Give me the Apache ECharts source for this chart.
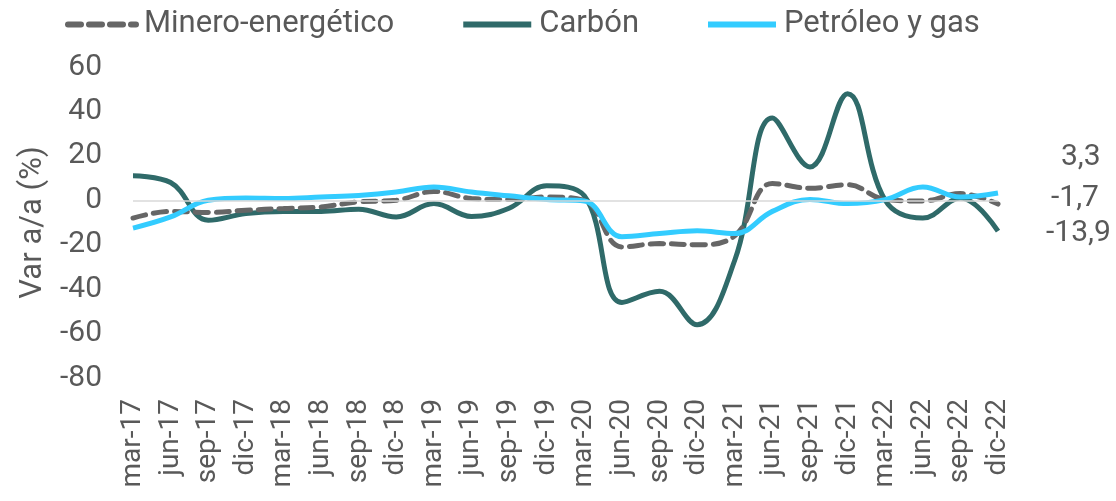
<!DOCTYPE html>
<html>
<head>
<meta charset="utf-8">
<title>Var a/a</title>
<script src="https://cdn.jsdelivr.net/npm/echarts@6/dist/echarts.min.js"></script>
<style>
  html, body { margin: 0; padding: 0; background: #fff; }
  #chart { width: 1116px; height: 501px; }
</style>
</head>
<body>
<div id="chart"></div>
<script>
// trimestres
const categories = ['mar-17', 'jun-17', 'sep-17', 'dic-17', 'mar-18', 'jun-18', 'sep-18', 'dic-18',
  'mar-19', 'jun-19', 'sep-19', 'dic-19', 'mar-20', 'jun-20', 'sep-20', 'dic-20',
  'mar-21', 'jun-21', 'sep-21', 'dic-21', 'mar-22', 'jun-22', 'sep-22', 'dic-22']

const mineroEnergetico = [-8, -5, -5.5, -4.5, -3.7, -3, -0.7, 0, 4, 0.8, 0.3, 1.5,
  0, -21, -19.5, -20, -16, 7.6, 5.4, 7, 0.4, -0.3, 3, -1.7]
const carbon = [11, 8, -9, -6, -5, -5, -4, -7.5, -1.5, -7.3, -3.6, 6.5,
  2, -46, -41, -56, -27, 37, 15, 48, 0, -8, 1, -13.9]
const petroleoGas = [-12.5, -7.5, 0, 1, 0.8, 1.5, 2.2, 3.7, 6, 3.7, 2, 0.4,
  -0.3, -16.4, -15, -13.7, -15, -5, 0.4, -1.5, 0.3, 6, 1.5, 3.3]

const yTicks = { min: -80, max: 60, interval: 20 }

const textColor = '#595959'
const font = 'Roboto'

function coma(p) {
  return String(p.value[1] !== undefined ? p.value[1] : p.value).replace('.', ',')
}

const chart = echarts.init(document.getElementById('chart'))

const option = {
  animation: false,
  textStyle: { fontFamily: font },
  legend: {
    top: 4,
    left: 60,
    itemWidth: 68,
    itemHeight: 14,
    itemGap: 66,
    lineStyle: { width: 6 },
    itemStyle: { color: 'transparent', borderWidth: 0 },
    textStyle: { fontSize: 31, color: textColor, fontFamily: font, padding: [0, 0, 0, 3] },
    data: ['Minero-energético', 'Carbón', 'Petróleo y gas']
  },
  grid: { left: 133, right: 118, top: 67, bottom: 123 },
  xAxis: {
    type: 'category',
    data: categories,
    boundaryGap: false,
    axisLine: { show: false },
    axisTick: { show: false },
    axisLabel: { rotate: 90, margin: 21, fontSize: 28, color: textColor, fontFamily: font, interval: 0 }
  },
  yAxis: {
    type: 'value',
    min: yTicks.min,
    max: yTicks.max,
    interval: yTicks.interval,
    name: 'Var a/a (%)',
    nameLocation: 'middle',
    nameGap: 84,
    nameTextStyle: { fontSize: 31, color: textColor, fontFamily: font },
    splitLine: { show: false },
    axisLine: { show: false },
    axisTick: { show: false },
    axisLabel: { margin: 31, fontSize: 30, color: textColor, fontFamily: font }
  },
  series: [
    {
      name: 'Minero-energético',
      type: 'line',
      data: mineroEnergetico,
      smooth: 0.4,
      symbol: 'none',
      z: 3,
      lineStyle: { color: '#666666', width: 5, type: [13, 8], cap: 'round' },
      itemStyle: { color: '#666666' },
      markLine: {
        silent: true,
        symbol: 'none',
        label: { show: false },
        lineStyle: { color: '#d9d9d9', width: 1.5, type: 'solid' },
        data: [{ yAxis: 0 }]
      },
      endLabel: { show: true, formatter: coma, distance: 0, offset: [53, -6], fontSize: 30, color: textColor }
    },
    {
      name: 'Carbón',
      type: 'line',
      data: carbon,
      smooth: 0.4,
      symbol: 'none',
      z: 2,
      lineStyle: { color: '#2f6a69', width: 5 },
      itemStyle: { color: '#2f6a69' },
      endLabel: { show: true, formatter: coma, distance: 0, offset: [48, 2], fontSize: 30, color: textColor }
    },
    {
      name: 'Petróleo y gas',
      type: 'line',
      data: petroleoGas,
      smooth: 0.4,
      symbol: 'none',
      z: 4,
      lineStyle: { color: '#33ccff', width: 5 },
      itemStyle: { color: '#33ccff' },
      endLabel: { show: true, formatter: coma, distance: 0, offset: [63, -35], fontSize: 30, color: textColor }
    }
  ]
}

chart.setOption(option)
</script>
</body>
</html>
